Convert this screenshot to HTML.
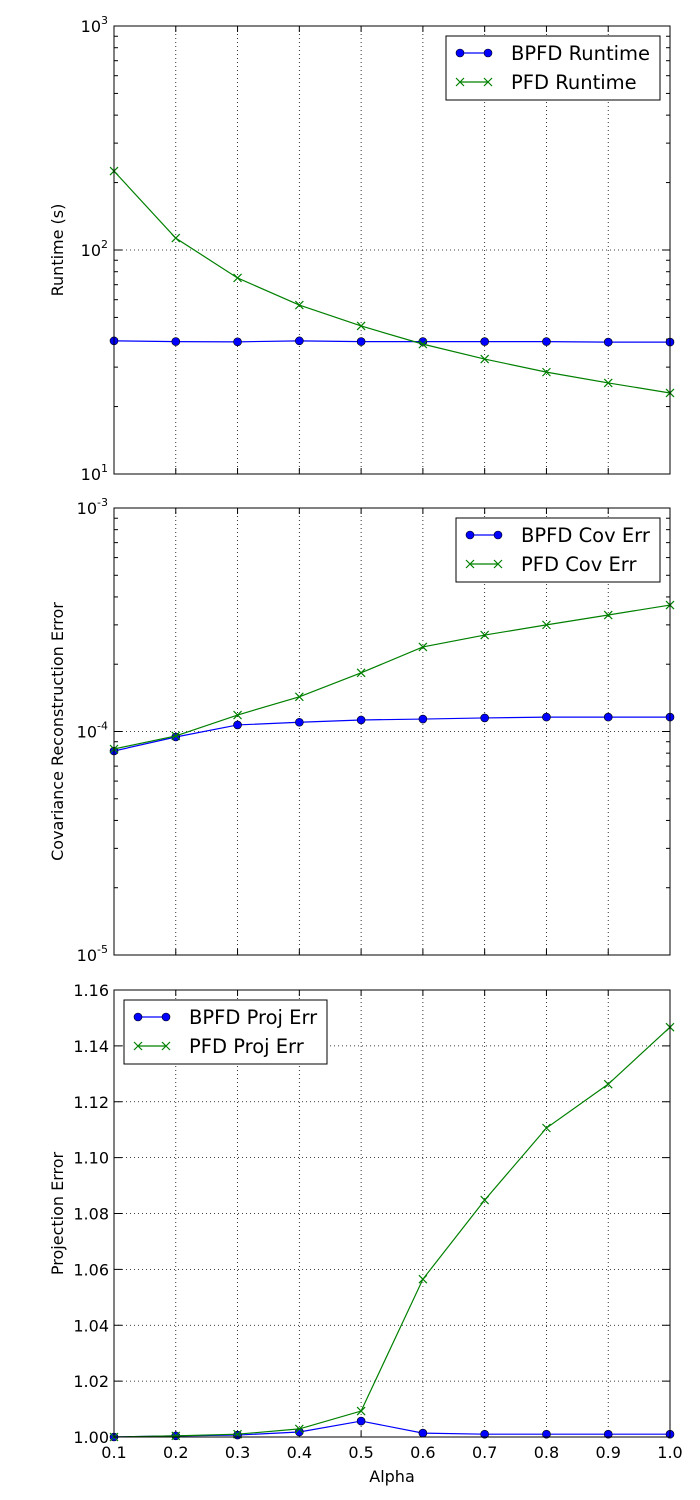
<!DOCTYPE html>
<html><head><meta charset="utf-8"><style>
html,body{margin:0;padding:0;background:#fff;}
svg{display:block;font-family:"DejaVu Sans","Liberation Sans",sans-serif;}
</style></head><body>
<svg id="chart" width="700" height="1500" viewBox="0 0 700 1500" xmlns="http://www.w3.org/2000/svg"></svg>
<script>
const alphas=[0.1,0.2,0.3,0.4,0.5,0.6,0.7,0.8,0.9,1.0];
const xTicks=[0.1,0.2,0.3,0.4,0.5,0.6,0.7,0.8,0.9,1.0];
const bpfdRuntime=[39.3,39.0,38.9,39.3,39.0,39.0,39.0,39.0,38.8,38.8];
const pfdRuntime=[225,113,75,56.8,45.8,38,32.6,28.5,25.5,23];
const bpfdCov=[8.18e-5,9.45e-5,1.07e-4,1.10e-4,1.126e-4,1.137e-4,1.15e-4,1.16e-4,1.16e-4,1.16e-4];
const pfdCov=[8.35e-5,9.55e-5,1.185e-4,1.43e-4,1.83e-4,2.39e-4,2.70e-4,3.0e-4,3.32e-4,3.68e-4];
const bpfdProj=[1.000,1.0004,1.0007,1.0018,1.0057,1.0014,1.001,1.001,1.001,1.001];
const pfdProj=[1.000,1.0004,1.001,1.0029,1.0093,1.0565,1.0848,1.1106,1.1263,1.1467];
const projTicks=[1.00,1.02,1.04,1.06,1.08,1.10,1.12,1.14,1.16];

const svg=document.getElementById('chart');
const NS='http://www.w3.org/2000/svg';
function el(tag,attrs,parent){const e=document.createElementNS(NS,tag);for(const k in attrs)e.setAttribute(k,attrs[k]);(parent||svg).appendChild(e);return e;}
const L=114,R=670;
const xs=v=>L+(v-0.1)/0.9*(R-L);

function panel(id,top,bot,yfn,majors,labelFn,minors,ylabel,series,legend){
  const g=el('g',{});
  
  
  xTicks.forEach(t=>{const x=xs(t);
    const ln=el('line',{x1:x,x2:x,y1:top,y2:bot,stroke:'#000','stroke-width':0.8,'stroke-dasharray':'1,3'},g);
    
    el('line',{x1:x,x2:x,y1:bot,y2:bot-6,stroke:'#000'},g);
    el('line',{x1:x,x2:x,y1:top,y2:top+6,stroke:'#000'},g);
  });
  majors.forEach(t=>{const y=yfn(t);
    const ln=el('line',{x1:L,x2:R,y1:y,y2:y,stroke:'#000','stroke-width':0.8,'stroke-dasharray':'1,3'},g);
    
    el('line',{x1:L,x2:L+8,y1:y,y2:y,stroke:'#000'},g);
    el('line',{x1:R,x2:R-8,y1:y,y2:y,stroke:'#000'},g);
    labelFn(t,y,g);
  });
  minors.forEach(t=>{const y=yfn(t);
    el('line',{x1:L,x2:L+4,y1:y,y2:y,stroke:'#000'},g);
    el('line',{x1:R,x2:R-4,y1:y,y2:y,stroke:'#000'},g);
  });
  const yl=el('text',{x:0,y:0,'font-size':16,'text-anchor':'middle',transform:`translate(63,${(top+bot)/2}) rotate(-90)`},g);
  yl.textContent=ylabel;
  
  series.forEach(s=>{
    const pts=s.data.map((v,i)=>xs(alphas[i])+','+yfn(v)).join(' ');
    const pl=el('polyline',{points:pts,fill:'none',stroke:s.color,'stroke-width':1.2},g);
    
    s.data.forEach((v,i)=>{const x=xs(alphas[i]),y=yfn(v);
      let m;
      if(s.marker==='o'){m=el('circle',{cx:x,cy:y,r:4,fill:s.color,stroke:'#000','stroke-width':0.6},g);}
      else{m=el('path',{d:`M${x-4},${y-4}L${x+4},${y+4}M${x-4},${y+4}L${x+4},${y-4}`,stroke:s.color,'stroke-width':1.2,fill:'none'},g);}
      
    });
  });
  const fr=el('rect',{x:L,y:top,width:R-L,height:bot-top,fill:'none',stroke:'#000','stroke-width':1},g);
  
  const lg=el('g',{},g);
  
  el('rect',{x:legend.x,y:legend.y,width:legend.w,height:64,fill:'#fff',stroke:'#000','stroke-width':1},lg);
  series.forEach((s,i)=>{const y=legend.y+17+i*29;const x0=legend.x+14,x1=legend.x+42;
    el('line',{x1:x0,x2:x1,y1:y,y2:y,stroke:s.color,'stroke-width':1.2},lg);
    [x0,x1].forEach(x=>{ if(s.marker==='o')el('circle',{cx:x,cy:y,r:4,fill:s.color,stroke:'#000','stroke-width':0.6},lg);
      else el('path',{d:`M${x-4},${y-4}L${x+4},${y+4}M${x-4},${y+4}L${x+4},${y-4}`,stroke:s.color,'stroke-width':1.2},lg);});
    const t=el('text',{x:legend.x+65,y:y+7,'font-size':19.5},lg);t.textContent=s.label;
    
  });
}
function logLabel(t,y,g){const e=Math.round(Math.log10(t));
  const tx=el('text',{x:L-6,y:y+6,'font-size':16,'text-anchor':'end'},g);
  tx.appendChild(document.createTextNode('10'));
  const sp=el('tspan',{dy:-8,'font-size':11},tx);sp.textContent=String(e);
  }
function logMinors(lo,hi){const a=[];for(let d=lo;d<hi;d++)for(let k=2;k<10;k++)a.push(k*Math.pow(10,d));return a;}

const t1=26,b1=474;
const y1=v=>b1-(Math.log10(v)-1)/2*(b1-t1);
panel('runtime-panel',t1,b1,y1,[10,100,1000],logLabel,logMinors(1,3),'Runtime (s)',
 [{name:'bpfd-runtime-line',label:'BPFD Runtime',data:bpfdRuntime,color:'#0000ff',marker:'o'},
  {name:'pfd-runtime-line',label:'PFD Runtime',data:pfdRuntime,color:'#008000',marker:'x'}],
 {x:446,y:36,w:214});
const t2=508,b2=955;
const y2=v=>b2-(Math.log10(v)+5)/2*(b2-t2);
panel('cov-error-panel',t2,b2,y2,[1e-5,1e-4,1e-3],logLabel,logMinors(-5,-3),'Covariance Reconstruction Error',
 [{name:'bpfd-cov-line',label:'BPFD Cov Err',data:bpfdCov,color:'#0000ff',marker:'o'},
  {name:'pfd-cov-line',label:'PFD Cov Err',data:pfdCov,color:'#008000',marker:'x'}],
 {x:456,y:518,w:204});
const t3=990,b3=1437;
const y3=v=>b3-(v-1.0)/0.16*(b3-t3);
panel('proj-error-panel',t3,b3,y3,projTicks,(t,y,g)=>{const tx=el('text',{x:L-5,y:y+6,'font-size':16,'text-anchor':'end'},g);tx.textContent=t.toFixed(2);
 },[],'Projection Error',
 [{name:'bpfd-proj-line',label:'BPFD Proj Err',data:bpfdProj,color:'#0000ff',marker:'o'},
  {name:'pfd-proj-line',label:'PFD Proj Err',data:pfdProj,color:'#008000',marker:'x'}],
 {x:124,y:1000,w:203});
xTicks.forEach(t=>{const tx=el('text',{x:xs(t),y:1458,'font-size':16,'text-anchor':'middle'});tx.textContent=t.toFixed(1);
 });
const xl=el('text',{x:(L+R)/2,y:1482,'font-size':16,'text-anchor':'middle'});xl.textContent='Alpha';

</script>
</body></html>
